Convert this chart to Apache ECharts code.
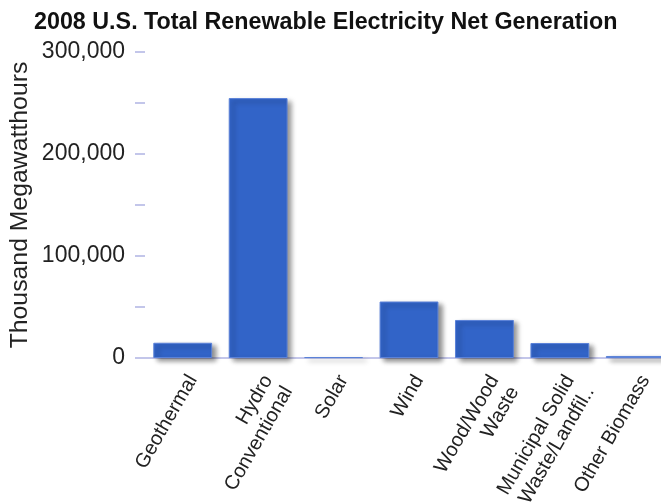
<!DOCTYPE html>
<html><head><meta charset="utf-8">
<script src="https://cdn.jsdelivr.net/npm/echarts@6/dist/echarts.min.js"></script>
<style>html,body{margin:0;padding:0;background:#fff;}#c{width:661px;height:502px;}</style>
</head><body><div id="c"></div>
<script>
const categories = ["Geothermal", "Hydro\nConventional", "Solar", "Wind", "Wood/Wood\nWaste", "Municipal Solid\nWaste/Landfil..", "Other Biomass"];
const generation = [14951, 254831, 864, 55363, 37300, 14700, 2000];
const yTicks = [0, 100000, 200000, 300000];
const titleText = "2008 U.S. Total Renewable Electricity Net Generation";
const yName = "Thousand Megawatthours";

const chart = echarts.init(document.getElementById('c'));
chart.setOption({
  animation: false,
  title: { text: titleText, left: 29, top: 6,
    textStyle: { fontFamily: 'Liberation Sans, Arial', fontWeight: 'bold', fontSize: 23.3, color: '#111' } },
  grid: { left: 145, right: -12, top: 52, bottom: 144, containLabel: false, outerBoundsMode: 'none' },
  xAxis: {
    type: 'category', data: categories,
    axisLine: { lineStyle: { color: '#c3c6ea', width: 2 } },
    axisTick: { alignWithLabel: true, length: 8, lineStyle: { color: '#c3c6ea', width: 2 } },
    axisLabel: { rotate: 60, interval: 0, margin: 13, fontFamily: 'Liberation Sans, Arial', fontSize: 20, color: '#222', lineHeight: 23, verticalAlign: 'top' }
  },
  yAxis: {
    type: 'value', min: 0, max: 300000, interval: 50000,
    name: yName, nameLocation: 'middle', nameGap: 112, nameMoveOverlap: false,
    nameTextStyle: { fontFamily: 'Liberation Sans, Arial', fontSize: 24.8, color: '#222' },
    axisLine: { show: false },
    axisTick: { show: true, length: 10, lineStyle: { color: '#c3c6ea', width: 2 } },
    splitLine: { show: false },
    axisLabel: { margin: 20, fontFamily: 'Liberation Sans, Arial', fontSize: 23, color: '#222',
      formatter: v => yTicks.includes(v) ? v.toLocaleString('en-US') : '' }
  },
  series: [{
    type: 'bar', data: generation, barCategoryGap: '22%',
    itemStyle: { color: '#3264c8', borderColor: '#5b82d8', borderWidth: 1,
      shadowColor: 'rgba(0,0,0,0.45)', shadowBlur: 5, shadowOffsetX: 4, shadowOffsetY: 3 }
  }]
});
</script></body></html>
